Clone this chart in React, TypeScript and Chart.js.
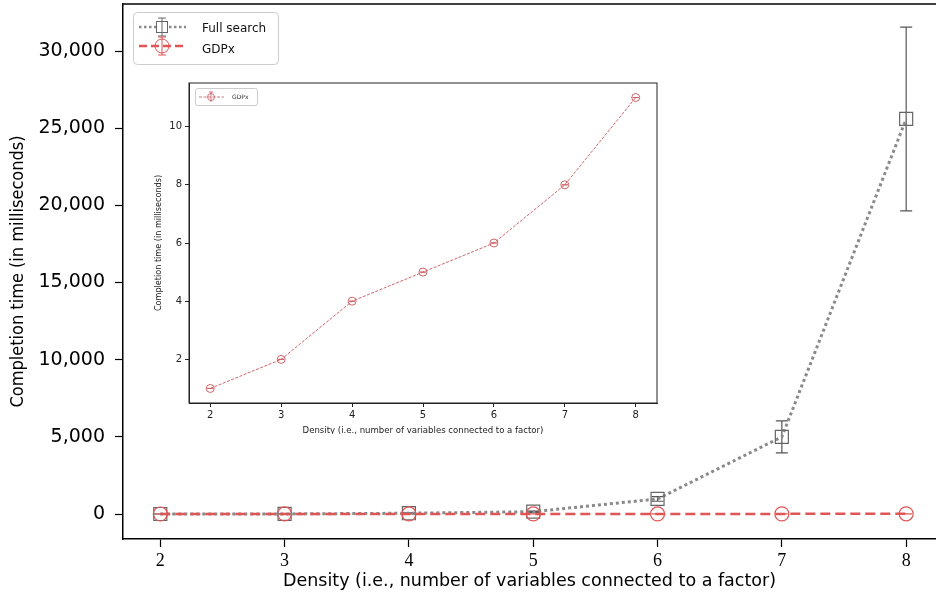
import React, { useEffect, useRef } from "react";
import { Chart, registerables } from "chart.js";

Chart.register(...registerables);

// ---------- data ----------
const densities = [2, 3, 4, 5, 6, 7, 8];
const fullSearchMs = [0, 5, 50, 150, 975, 5000, 25600];
const fullSearchErr = [0, 0, 20, 40, 150, 1040, 5950];
const gdpxMs = [1, 2, 4, 5, 6, 8, 11];
const gdpxErr = [0, 0, 0, 0, 0, 0, 0];
const mainYTicks = [0, 5000, 10000, 15000, 20000, 25000, 30000];
const insetYTicks = [2, 4, 6, 8, 10];
const seriesNames = ["Full search", "GDPx"];
const xTitle = "Density (i.e., number of variables connected to a factor)";
const yTitle = "Completion time (in milliseconds)";

const GRAY_LINE = "#8a8a8a";
const GRAY_MARK = "#666666";
const RED = "#e05555";
const INSET_RED = "#c8545a";

const zeroPad = (s: any) => {
  s.paddingTop = 0;
  s.paddingBottom = 0;
  s.paddingLeft = 0;
  s.paddingRight = 0;
};

const errorBarsPlugin = {
  id: "errorBars",
  beforeDatasetsDraw(chart: any, _args: any, opts: any) {
    const sets = opts.sets || [];
    const { ctx, scales, chartArea } = chart;
    const xs = scales.x;
    const ys = scales.y;
    ctx.save();
    ctx.beginPath();
    ctx.rect(chartArea.left, chartArea.top, chartArea.right - chartArea.left, chartArea.bottom - chartArea.top);
    ctx.clip();
    for (const s of sets) {
      ctx.strokeStyle = s.color;
      ctx.lineWidth = s.width;
      for (let i = 0; i < s.xs.length; i++) {
        const x = xs.getPixelForValue(s.xs[i]);
        const y1 = ys.getPixelForValue(s.ys[i] - s.errs[i]);
        const y2 = ys.getPixelForValue(s.ys[i] + s.errs[i]);
        ctx.beginPath();
        ctx.moveTo(x, y1);
        ctx.lineTo(x, y2);
        ctx.moveTo(x - s.cap, y1);
        ctx.lineTo(x + s.cap, y1);
        ctx.moveTo(x - s.cap, y2);
        ctx.lineTo(x + s.cap, y2);
        ctx.stroke();
      }
    }
    ctx.restore();
  },
};

const frameMain = {
  id: "frameMain",
  afterDraw(chart: any) {
    const { ctx, chartArea } = chart;
    ctx.save();
    ctx.strokeStyle = "#000";
    ctx.lineWidth = 1.5;
    ctx.beginPath();
    ctx.moveTo(chartArea.left, chartArea.top);
    ctx.lineTo(chartArea.right, chartArea.top);
    ctx.stroke();
    ctx.restore();
  },
};

const frameInset = {
  id: "frameInset",
  afterDraw(chart: any) {
    const { ctx, chartArea } = chart;
    ctx.save();
    ctx.strokeStyle = "#222";
    ctx.lineWidth = 1;
    ctx.strokeRect(chartArea.left, chartArea.top, chartArea.right - chartArea.left, chartArea.bottom - chartArea.top);
    ctx.restore();
  },
};

function roundRect(ctx: CanvasRenderingContext2D, x: number, y: number, w: number, h: number, r: number) {
  ctx.beginPath();
  ctx.moveTo(x + r, y);
  ctx.lineTo(x + w - r, y);
  ctx.quadraticCurveTo(x + w, y, x + w, y + r);
  ctx.lineTo(x + w, y + h - r);
  ctx.quadraticCurveTo(x + w, y + h, x + w - r, y + h);
  ctx.lineTo(x + r, y + h);
  ctx.quadraticCurveTo(x, y + h, x, y + h - r);
  ctx.lineTo(x, y + r);
  ctx.quadraticCurveTo(x, y, x + r, y);
  ctx.closePath();
}

const mainLegend = {
  id: "mainLegend",
  afterDraw(chart: any) {
    const ctx: CanvasRenderingContext2D = chart.ctx;
    ctx.save();
    roundRect(ctx, 133.5, 12.5, 145, 52, 4);
    ctx.fillStyle = "rgba(255,255,255,0.9)";
    ctx.fill();
    ctx.strokeStyle = "#cccccc";
    ctx.lineWidth = 1;
    ctx.stroke();

    // Full search entry
    let y = 27;
    ctx.strokeStyle = GRAY_LINE;
    ctx.lineWidth = 2.5;
    ctx.setLineDash([2.5, 2.5]);
    ctx.beginPath();
    ctx.moveTo(139, y);
    ctx.lineTo(186, y);
    ctx.stroke();
    ctx.setLineDash([]);
    ctx.strokeStyle = GRAY_MARK;
    ctx.lineWidth = 1;
    ctx.fillStyle = "#fff";
    ctx.fillRect(156, y - 5, 11, 11);
    ctx.strokeRect(156.5, y - 5.5, 11, 11);
    ctx.beginPath();
    ctx.moveTo(162, y - 9);
    ctx.lineTo(162, y + 9);
    ctx.moveTo(158, y - 9);
    ctx.lineTo(166, y - 9);
    ctx.moveTo(158, y + 9);
    ctx.lineTo(166, y + 9);
    ctx.stroke();

    // GDPx entry
    y = 46;
    ctx.strokeStyle = RED;
    ctx.lineWidth = 2.5;
    ctx.setLineDash([8, 4]);
    ctx.beginPath();
    ctx.moveTo(139, y);
    ctx.lineTo(186, y);
    ctx.stroke();
    ctx.setLineDash([]);
    ctx.lineWidth = 1;
    ctx.beginPath();
    ctx.arc(162, y, 7, 0, Math.PI * 2);
    ctx.stroke();
    ctx.beginPath();
    ctx.moveTo(162, y - 9);
    ctx.lineTo(162, y + 9);
    ctx.moveTo(158, y - 9);
    ctx.lineTo(166, y - 9);
    ctx.moveTo(158, y + 9);
    ctx.lineTo(166, y + 9);
    ctx.stroke();

    ctx.fillStyle = "#111";
    ctx.font = "12px 'DejaVu Sans'";
    ctx.textBaseline = "middle";
    ctx.textAlign = "left";
    ctx.fillText(seriesNames[0], 202, 29);
    ctx.fillText(seriesNames[1], 202, 50);
    ctx.restore();
  },
};

const insetLegend = {
  id: "insetLegend",
  afterDraw(chart: any) {
    const ctx: CanvasRenderingContext2D = chart.ctx;
    ctx.save();
    roundRect(ctx, 45.5, 18.5, 62, 17, 2);
    ctx.fillStyle = "#fff";
    ctx.fill();
    ctx.strokeStyle = "#cccccc";
    ctx.lineWidth = 1;
    ctx.stroke();
    const y = 27;
    ctx.strokeStyle = INSET_RED;
    ctx.lineWidth = 0.8;
    ctx.setLineDash([3, 1.5]);
    ctx.beginPath();
    ctx.moveTo(49, y);
    ctx.lineTo(74, y);
    ctx.stroke();
    ctx.setLineDash([]);
    ctx.beginPath();
    ctx.arc(61, y, 3.5, 0, Math.PI * 2);
    ctx.stroke();
    ctx.beginPath();
    ctx.moveTo(61, y - 5);
    ctx.lineTo(61, y + 5);
    ctx.moveTo(59, y - 5);
    ctx.lineTo(63, y - 5);
    ctx.stroke();
    ctx.fillStyle = "#333";
    ctx.font = "6px 'DejaVu Sans'";
    ctx.textBaseline = "middle";
    ctx.fillText(seriesNames[1], 82, y + 0.5);
    ctx.restore();
  },
};

export default function App() {
  const mainRef = useRef<HTMLCanvasElement>(null);
  const insetRef = useRef<HTMLCanvasElement>(null);

  useEffect(() => {
    const mainChart = new Chart(mainRef.current as HTMLCanvasElement, {
      type: "line",
      data: {
        datasets: [
          {
            label: seriesNames[0],
            data: densities.map((x, i) => ({ x, y: fullSearchMs[i] })),
            borderColor: GRAY_LINE,
            borderWidth: 3,
            borderDash: [3, 3],
            pointStyle: "rect",
            pointRadius: 9.2,
            pointBorderColor: GRAY_MARK,
            pointBorderWidth: 1.2,
            pointBackgroundColor: "rgba(0,0,0,0)",
            order: 2,
          },
          {
            label: seriesNames[1],
            data: densities.map((x, i) => ({ x, y: gdpxMs[i] })),
            borderColor: RED,
            borderWidth: 2.5,
            borderDash: [10, 5],
            pointStyle: "circle",
            pointRadius: 7,
            pointBorderColor: RED,
            pointBorderWidth: 1.2,
            pointBackgroundColor: "rgba(0,0,0,0)",
            order: 1,
          },
        ],
      } as any,
      options: {
        animation: false,
        responsive: false,
        events: [],
        layout: { autoPadding: false, padding: { top: 4, left: 0, right: 0, bottom: 0 } },
        plugins: {
          legend: { display: false },
          tooltip: { enabled: false },
          errorBars: {
            sets: [
              { xs: densities, ys: fullSearchMs, errs: fullSearchErr, color: "#555", width: 1.2, cap: 6 },
              { xs: densities, ys: gdpxMs, errs: gdpxErr, color: RED, width: 1.2, cap: 6 },
            ],
          },
        } as any,
        scales: {
          x: {
            type: "linear",
            min: 1.7,
            max: 8.24,
            afterBuildTicks: (s: any) => {
              s.ticks = densities.map((v) => ({ value: v }));
            },
            afterFit: (s: any) => {
              s.height = 61;
              zeroPad(s);
            },
            grid: { drawOnChartArea: false, tickLength: 8, color: "#000", tickWidth: 1.2 },
            border: { color: "#000", width: 1.5 },
            ticks: {
              color: "#000",
              font: { family: "'Liberation Serif', serif", size: 18 },
              padding: 3,
              maxRotation: 0,
              autoSkip: false,
            },
            title: {
              display: true,
              text: xTitle,
              color: "#000",
              font: { family: "'DejaVu Sans', sans-serif", size: 17.5 },
              padding: { top: 0, bottom: 8 },
            },
          },
          y: {
            type: "linear",
            min: -1620,
            max: 33050,
            afterBuildTicks: (s: any) => {
              s.ticks = mainYTicks.map((v) => ({ value: v }));
            },
            afterFit: (s: any) => {
              s.width = 123;
              zeroPad(s);
            },
            grid: { drawOnChartArea: false, tickLength: 8, color: "#000", tickWidth: 1.2 },
            border: { color: "#000", width: 1.5 },
            ticks: {
              color: "#000",
              font: { family: "'DejaVu Sans', sans-serif", size: 19 },
              padding: 10,
              callback: (v: any) => Number(v).toLocaleString("en-US"),
            },
            title: {
              display: true,
              text: yTitle,
              color: "#000",
              font: { family: "'DejaVu Sans Condensed', 'DejaVu Sans', sans-serif", size: 18 },
              padding: { top: 8, bottom: 0 },
            },
          },
        },
      },
      plugins: [errorBarsPlugin, frameMain, mainLegend],
    } as any);

    const insetChart = new Chart(insetRef.current as HTMLCanvasElement, {
      type: "line",
      data: {
        datasets: [
          {
            label: seriesNames[1],
            data: densities.map((x, i) => ({ x, y: gdpxMs[i] })),
            borderColor: INSET_RED,
            borderWidth: 0.9,
            borderDash: [3, 1.5],
            pointStyle: "circle",
            pointRadius: 4,
            pointBorderColor: INSET_RED,
            pointBorderWidth: 0.9,
            pointBackgroundColor: "rgba(0,0,0,0)",
          },
        ],
      } as any,
      options: {
        animation: false,
        responsive: false,
        events: [],
        layout: { autoPadding: false, padding: { top: 13, left: 0, right: 13, bottom: 0 } },
        plugins: {
          legend: { display: false },
          tooltip: { enabled: false },
          errorBars: {
            sets: [{ xs: densities, ys: gdpxMs, errs: gdpxErr, color: INSET_RED, width: 0.8, cap: 3 }],
          },
        } as any,
        scales: {
          x: {
            type: "linear",
            min: 1.7,
            max: 8.3,
            afterBuildTicks: (s: any) => {
              s.ticks = densities.map((v) => ({ value: v }));
            },
            afterFit: (s: any) => {
              s.height = 31;
              zeroPad(s);
            },
            grid: { drawOnChartArea: false, tickLength: 4, color: "#222", tickWidth: 1 },
            border: { color: "#222", width: 1 },
            ticks: {
              color: "#222",
              font: { family: "'DejaVu Sans', sans-serif", size: 10 },
              padding: 2,
              maxRotation: 0,
              autoSkip: false,
            },
            title: {
              display: true,
              text: xTitle,
              color: "#222",
              font: { family: "'DejaVu Sans Condensed', 'DejaVu Sans', sans-serif", size: 9.5, lineHeight: 0.8 },
              padding: { top: 0, bottom: 0 },
            },
          },
          y: {
            type: "linear",
            min: 0.5,
            max: 11.5,
            afterBuildTicks: (s: any) => {
              s.ticks = insetYTicks.map((v) => ({ value: v }));
            },
            afterFit: (s: any) => {
              s.width = 39;
              zeroPad(s);
            },
            grid: { drawOnChartArea: false, tickLength: 4, color: "#222", tickWidth: 1 },
            border: { color: "#222", width: 1 },
            ticks: {
              color: "#222",
              font: { family: "'DejaVu Sans', sans-serif", size: 10 },
              padding: 3,
            },
            title: {
              display: true,
              text: yTitle,
              color: "#222",
              font: { family: "'DejaVu Sans Condensed', 'DejaVu Sans', sans-serif", size: 9 },
              padding: { top: 3, bottom: 0 },
            },
          },
        },
      },
      plugins: [errorBarsPlugin, frameInset, insetLegend],
    } as any);

    return () => {
      mainChart.destroy();
      insetChart.destroy();
    };
  }, []);

  return (
    <div style={{ position: "fixed", left: 0, top: 0, width: 936, height: 600, background: "#fff", overflow: "hidden" }}>
      <canvas ref={mainRef} width={936} height={600} style={{ position: "absolute", left: 0, top: 0 }} />
      <canvas
        ref={insetRef}
        width={520}
        height={364}
        style={{ position: "absolute", left: 150, top: 70, background: "#fff" }}
      />
    </div>
  );
}
